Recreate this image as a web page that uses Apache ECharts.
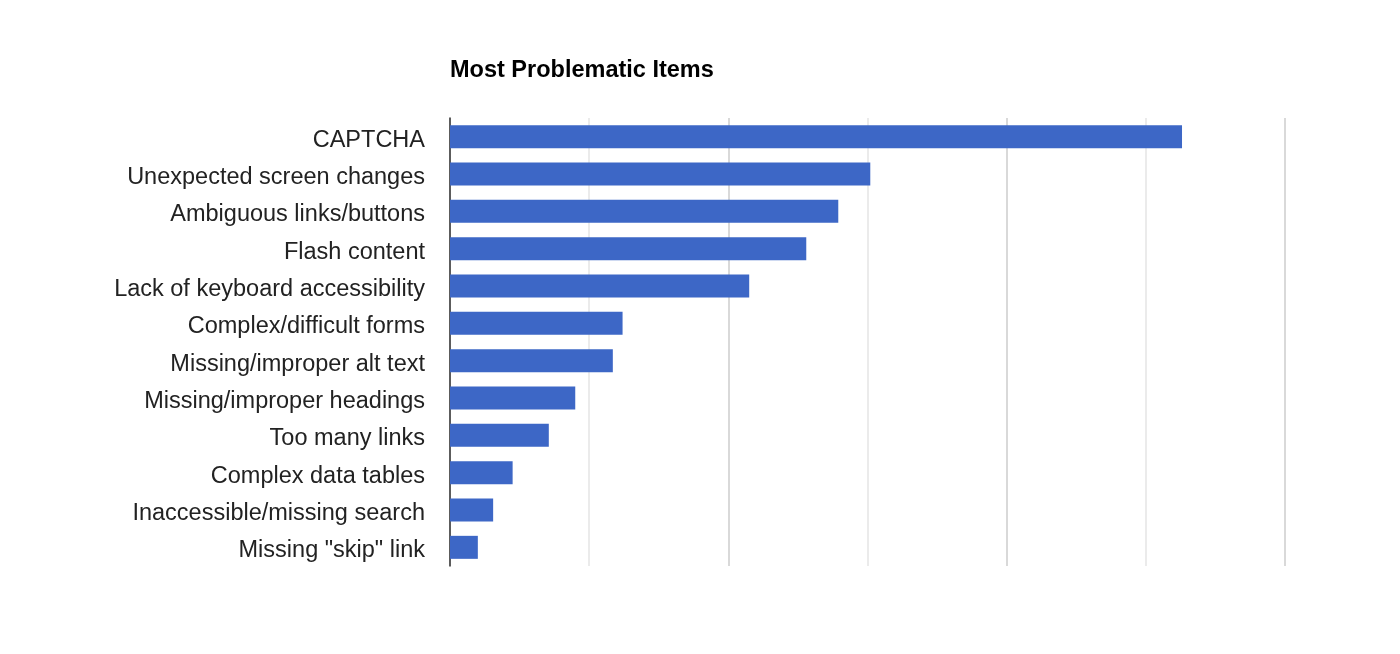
<!DOCTYPE html>
<html>
<head>
<meta charset="utf-8">
<script src="https://cdn.jsdelivr.net/npm/echarts@6/dist/echarts.min.js"></script>
<style>
  html, body { margin: 0; padding: 0; background: #fff; }
  #chart-container { width: 1400px; height: 654px; }
</style>
</head>
<body>
<div id="chart-container"></div>
<script>
var categories = [
  'CAPTCHA',
  'Unexpected screen changes',
  'Ambiguous links/buttons',
  'Flash content',
  'Lack of keyboard accessibility',
  'Complex/difficult forms',
  'Missing/improper alt text',
  'Missing/improper headings',
  'Too many links',
  'Complex data tables',
  'Inaccessible/missing search',
  'Missing "skip" link'
];
var values = [526, 302, 279, 256, 215, 124, 117, 90, 71, 45, 31, 20];

var dom = document.getElementById('chart-container');
var myChart = echarts.init(dom, null, { renderer: 'canvas' });

var option = {
  animation: false,
  title: {
    text: 'Most Problematic Items',
    left: 450,
    top: 59,
    padding: 0,
    textStyle: {
      fontFamily: 'Liberation Sans, Arial, sans-serif',
      fontSize: 23.5,
      fontWeight: 'bold',
      color: '#000'
    }
  },
  grid: { left: 450, right: 115, top: 118, bottom: 88, containLabel: false },
  xAxis: {
    type: 'value',
    min: 0,
    max: 600,
    interval: 100,
    axisLine: { show: false },
    axisTick: { show: false },
    axisLabel: { show: false },
    splitLine: { lineStyle: { color: ['#cccccc', '#e4e4e4'], width: 1.5 } }
  },
  yAxis: {
    type: 'category',
    data: categories,
    inverse: true,
    axisLine: { show: true, lineStyle: { color: '#333', width: 1.5 } },
    axisTick: { show: false },
    axisLabel: {
      margin: 25,
      formatter: function (v) { return '{a|' + v + '}'; },
      rich: {
        a: {
          padding: [7, 0, 0, 0],
          fontFamily: 'Liberation Sans, Arial, sans-serif',
          fontSize: 23.5,
          color: '#222'
        }
      }
    }
  },
  series: [{
    type: 'bar',
    data: values,
    barWidth: 23,
    itemStyle: { color: '#3d67c6' }
  }]
};

myChart.setOption(option);
window.addEventListener('resize', myChart.resize);
</script>
</body>
</html>
